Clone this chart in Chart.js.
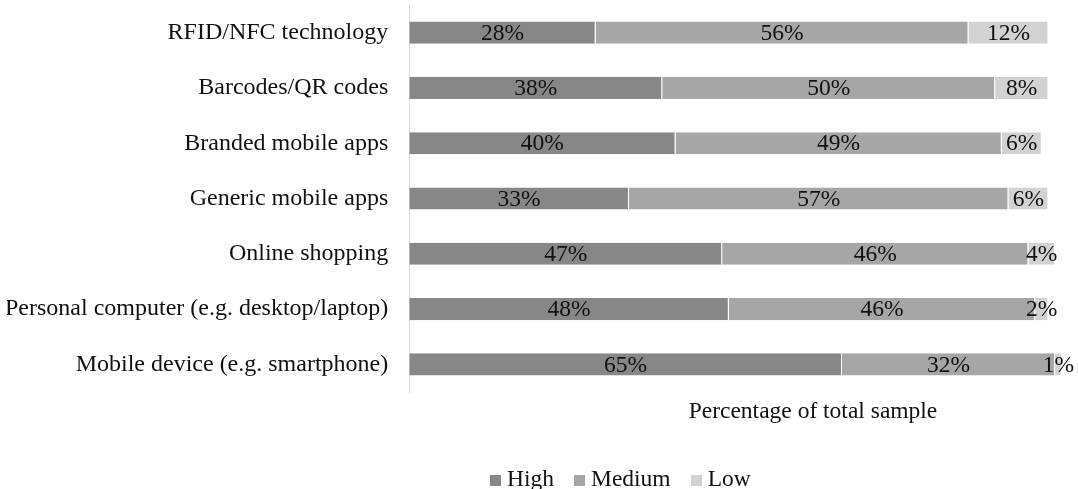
<!DOCTYPE html>
<html lang="en">
<head>
    <meta charset="UTF-8">
    <title>Technology usage</title>
    <script src="https://cdn.jsdelivr.net/npm/chart.js"></script>
    <style>
        body { margin: 0; background: #fff; font-family: "Liberation Serif", serif; overflow: hidden; }
        #wrap { position: relative; width: 1078px; height: 489px; overflow: hidden; }
        #xtitle { position: absolute; left: 663px; width: 300px; top: 398px; text-align: center; font-size: 23.5px; line-height: 24px; color: #111; }
        #legend { position: absolute; left: 490px; top: 466px; font-size: 23.5px; line-height: 24px; color: #111; white-space: nowrap; }
        #legend span.item { margin-right: 20px; }
        #legend span.box { display: inline-block; width: 11px; height: 11px; margin-right: 6px; }
    </style>
</head>
<body>
    <div id="wrap">
        <canvas id="myChart" width="1078" height="489"></canvas>
        <div id="xtitle">Percentage of total sample</div>
        <div id="legend"></div>
    </div>
<script>
    const categories = [
        'RFID/NFC technology',
        'Barcodes/QR codes',
        'Branded mobile apps',
        'Generic mobile apps',
        'Online shopping',
        'Personal computer (e.g. desktop/laptop)',
        'Mobile device (e.g. smartphone)'
    ];
    const seriesNames = ['High', 'Medium', 'Low'];
    const high = [28, 38, 40, 33, 47, 48, 65];
    const medium = [56, 50, 49, 57, 46, 46, 32];
    const low = [12, 8, 6, 6, 4, 2, 1];
    const colors = ['#878787', '#a6a6a6', '#d2d2d2'];

    // draws the % text in the middle of every segment
    const segmentLabels = {
        id: 'segmentLabels',
        afterDatasetsDraw(chart) {
            const ctx = chart.ctx;
            ctx.save();
            ctx.font = '23.5px "Liberation Serif"';
            ctx.fillStyle = '#111';
            ctx.textAlign = 'center';
            ctx.textBaseline = 'middle';
            chart.data.datasets.forEach((ds, i) => {
                chart.getDatasetMeta(i).data.forEach((bar, j) => {
                    const x = (bar.x + bar.base) / 2;
                    ctx.fillText(ds.data[j] + '%', x, bar.y + 1);
                });
            });
            ctx.restore();
        }
    };

    const data = {
        labels: categories,
        datasets: [
            { label: seriesNames[0], data: high, backgroundColor: colors[0] },
            { label: seriesNames[1], data: medium, backgroundColor: colors[1] },
            { label: seriesNames[2], data: low, backgroundColor: colors[2] }
        ].map(d => Object.assign(d, {
            borderColor: '#ffffff',
            borderWidth: { left: 0, top: 0, bottom: 0, right: 1 },
            borderSkipped: false,
            barPercentage: 0.4,
            categoryPercentage: 1
        }))
    };

    const config = {
        type: 'bar',
        data: data,
        plugins: [segmentLabels],
        options: {
            indexAxis: 'y',
            responsive: false,
            animation: false,
            layout: { padding: { left: 7, right: 3, top: 5, bottom: 97 } },
            plugins: {
                legend: { display: false },
                tooltip: { enabled: false }
            },
            scales: {
                x: {
                    stacked: true,
                    min: 0,
                    max: 100,
                    display: false
                },
                y: {
                    stacked: true,
                    grid: { display: false },
                    border: { display: true, color: '#d9d9d9', width: 1 },
                    ticks: {
                        padding: 13,
                        color: '#111',
                        font: { family: 'Liberation Serif', size: 24 }
                    },
                    // tick padding should only push labels sideways, not shrink the plot
                    afterFit(scale) {
                        scale.paddingTop = 0;
                        scale.paddingBottom = 0;
                        scale.width -= 15;
                    }
                }
            }
        }
    };

    const myChart = new Chart(document.getElementById('myChart'), config);

    const legend = document.getElementById('legend');
    seriesNames.forEach((name, i) => {
        const item = document.createElement('span');
        item.className = 'item';
        const box = document.createElement('span');
        box.className = 'box';
        box.style.background = colors[i];
        item.appendChild(box);
        item.appendChild(document.createTextNode(name));
        legend.appendChild(item);
    });
</script>
</body>
</html>
